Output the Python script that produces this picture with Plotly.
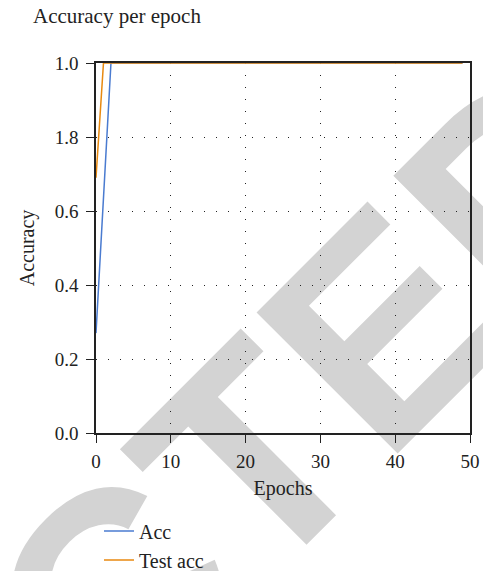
import plotly.graph_objects as go

epochs = list(range(50))
acc = [0.27, 0.635, 1.0, 1.0, 1.0, 1.0, 1.0, 1.0, 1.0, 1.0,
       1.0, 1.0, 1.0, 1.0, 1.0, 1.0, 1.0, 1.0, 1.0, 1.0,
       1.0, 1.0, 1.0, 1.0, 1.0, 1.0, 1.0, 1.0, 1.0, 1.0,
       1.0, 1.0, 1.0, 1.0, 1.0, 1.0, 1.0, 1.0, 1.0, 1.0,
       1.0, 1.0, 1.0, 1.0, 1.0, 1.0, 1.0, 1.0, 1.0, 1.0]
test_acc = [0.69, 1.0, 1.0, 1.0, 1.0, 1.0, 1.0, 1.0, 1.0, 1.0,
            1.0, 1.0, 1.0, 1.0, 1.0, 1.0, 1.0, 1.0, 1.0, 1.0,
            1.0, 1.0, 1.0, 1.0, 1.0, 1.0, 1.0, 1.0, 1.0, 1.0,
            1.0, 1.0, 1.0, 1.0, 1.0, 1.0, 1.0, 1.0, 1.0, 1.0,
            1.0, 1.0, 1.0, 1.0, 1.0, 1.0, 1.0, 1.0, 1.0, 1.0]
x_ticks = [0, 10, 20, 30, 40, 50]
y_ticks = [0.0, 0.2, 0.4, 0.6, 0.8, 1.0]
y_ticktext = ["0.0", "0.2", "0.4", "0.6", "1.8", "1.0"]

SERIF = "Liberation Serif, DejaVu Serif, serif"
BLUE = "#4a7bd0"
ORANGE = "#e8890f"

fig = go.Figure()
fig.add_trace(go.Scatter(x=epochs, y=acc, mode="lines", name="Acc",
                         line=dict(color=BLUE, width=1.5), legendgroup="a"))
fig.add_trace(go.Scatter(x=epochs, y=test_acc, mode="lines", name="Test acc",
                         line=dict(color=ORANGE, width=1.5), legendgroup="b"))

# watermark text, drawn below the plot
cx, cy = -0.401, -0.787
fig.add_shape(type="rect", xref="paper", yref="paper",
              x0=cx - 0.005, x1=cx + 0.005, y0=cy - 0.005, y1=cy + 0.005,
              line=dict(width=0), fillcolor="rgba(0,0,0,0)", layer="below",
              label=dict(text="RETRACTED", textangle=-45, textposition="middle center",
                         font=dict(family="Liberation Sans, Arial, sans-serif", size=290,
                                   color="rgb(211,211,211)", weight="bold")))

fig.update_layout(
    width=483, height=571,
    margin=dict(l=96, r=13, t=63, b=138, autoexpand=False),
    paper_bgcolor="white", plot_bgcolor="rgba(0,0,0,0)",
    font=dict(family=SERIF, size=19, color="#222"),
    title=dict(text="Accuracy per epoch", x=33/483, xref="container", xanchor="left",
               y=1 - 16/571, yref="container", yanchor="middle",
               font=dict(family=SERIF, size=21, color="#222")),
    showlegend=True,
    legend=dict(x=0.008, xanchor="left", y=-0.212, yanchor="top",
                bgcolor="rgba(0,0,0,0)", tracegroupgap=0,
                font=dict(family=SERIF, size=20, color="#222")),
    xaxis=dict(range=[0, 50], tickvals=x_ticks, ticks="outside", ticklen=8,
               tickcolor="#222", showline=True, linecolor="#222", linewidth=1.5,
               mirror=True, showgrid=True, gridcolor="#222", gridwidth=1.2,
               griddash="1px,11px", zeroline=False, ticklabelstandoff=2,
               tickfont=dict(family=SERIF, size=19),
               title=dict(text="Epochs", standoff=10, font=dict(family=SERIF, size=20))),
    yaxis=dict(range=[0, 1], tickvals=y_ticks, ticktext=y_ticktext, ticks="outside",
               ticklen=8, tickcolor="#222", showline=True, linecolor="#222", linewidth=1.5,
               mirror=True, showgrid=True, gridcolor="#222", gridwidth=1.2,
               griddash="1px,11px", zeroline=False, ticklabelstandoff=4,
               tickfont=dict(family=SERIF, size=19),
               title=dict(text="Accuracy", standoff=15, font=dict(family=SERIF, size=20))),
)

fig.write_html("out.html")
